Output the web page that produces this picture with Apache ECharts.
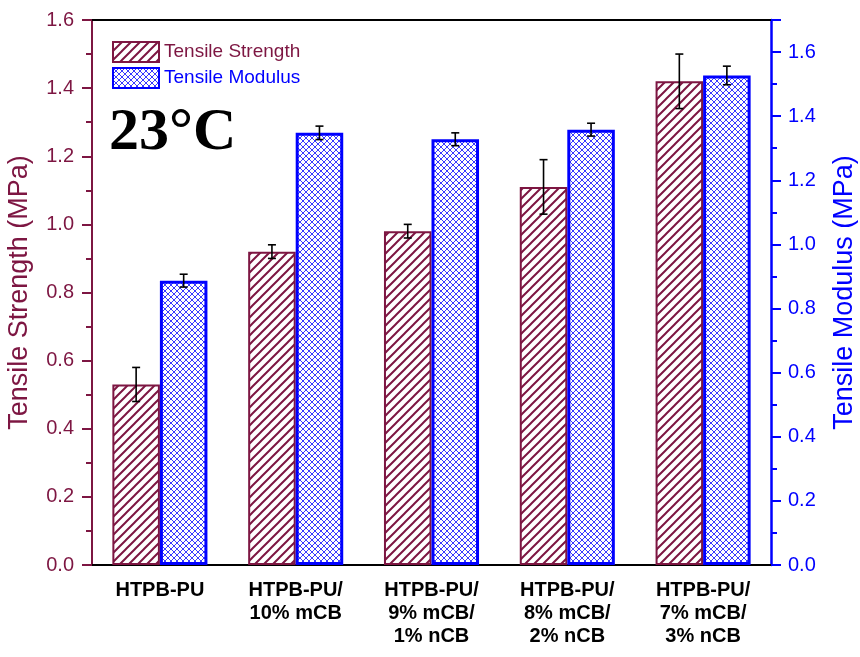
<!DOCTYPE html>
<html>
<head>
<meta charset="utf-8">
<script src="https://cdn.jsdelivr.net/npm/echarts@6/dist/echarts.min.js"></script>
<style>html,body{margin:0;padding:0;background:#fff;}#c{width:860px;height:657px;}</style>
</head>
<body>
<div id="c"></div>
<script>
const categories = ['HTPB-PU', 'HTPB-PU/\n10% mCB', 'HTPB-PU/\n9% mCB/\n1% nCB', 'HTPB-PU/\n8% mCB/\n2% nCB', 'HTPB-PU/\n7% mCB/\n3% nCB'];
const strength = [0.53, 0.92, 0.98, 1.11, 1.42];
const strengthErr = [0.05, 0.02, 0.02, 0.08, 0.08];
const modulus = [0.887, 1.348, 1.328, 1.358, 1.527];
const modulusErr = [0.02, 0.021, 0.02, 0.02, 0.029];
const leftTicks = { min: 0, max: 1.6, interval: 0.2 };
const rightTicks = { min: 0, max: 1.7, interval: 0.2 };

const MAROON = '#7d1642';
const BLUE = '#0000ff';

function hatch(color, size, lw) {
  const c = document.createElement('canvas');
  c.width = size; c.height = size;
  const g = c.getContext('2d');
  g.fillStyle = '#fff'; g.fillRect(0, 0, size, size);
  g.strokeStyle = color; g.lineWidth = lw;
  g.beginPath();
  g.moveTo(-1, size + 1); g.lineTo(size + 1, -1);
  g.moveTo(-1, 1); g.lineTo(1, -1);
  g.moveTo(size - 1, size + 1); g.lineTo(size + 1, size - 1);
  g.stroke();
  return c;
}
function cross(color, size, lw) {
  const c = document.createElement('canvas');
  c.width = size; c.height = size;
  const g = c.getContext('2d');
  g.fillStyle = '#fff'; g.fillRect(0, 0, size, size);
  g.strokeStyle = color; g.lineWidth = lw;
  g.beginPath();
  g.moveTo(0, 0); g.lineTo(size, size);
  g.moveTo(size, 0); g.lineTo(0, size);
  g.stroke();
  return c;
}
const strengthFill = { image: hatch(MAROON, 9, 2), repeat: 'repeat' };
const modulusFill = { image: cross('#3a3aff', 6, 1), repeat: 'repeat' };

function errData(vals, errs) {
  return vals.map((v, i) => [i, v - errs[i], v + errs[i]]);
}
function errRender(side) {
  return function (params, api) {
    const i = api.value(0);
    const lo = api.coord([i, api.value(1)]);
    const hi = api.coord([i, api.value(2)]);
    const band = api.size([1, 0])[0];
    const x = lo[0] + side * band * 0.175;
    const cap = 4;
    const st = { stroke: '#000', lineWidth: 1.6 };
    return {
      type: 'group',
      children: [
        { type: 'line', shape: { x1: x, y1: lo[1], x2: x, y2: hi[1] }, style: st },
        { type: 'line', shape: { x1: x - cap, y1: lo[1], x2: x + cap, y2: lo[1] }, style: st },
        { type: 'line', shape: { x1: x - cap, y1: hi[1], x2: x + cap, y2: hi[1] }, style: st }
      ]
    };
  };
}

const chart = echarts.init(document.getElementById('c'), null, { renderer: 'canvas' });
chart.setOption({
  animation: false,
  backgroundColor: '#fff',
  grid: { left: 92, right: 89, top: 20, bottom: 92, containLabel: false, outerBoundsMode: 'none' },
  legend: {
    orient: 'vertical', left: 107, top: 36, itemWidth: 46, itemHeight: 20, itemGap: 4,
    icon: 'rect',
    textStyle: { fontFamily: 'Liberation Sans', fontSize: 19 },
    data: [
      { name: 'Tensile Strength', textStyle: { color: MAROON } },
      { name: 'Tensile Modulus', textStyle: { color: BLUE } }
    ]
  },
  graphic: [{
    type: 'text', left: 109, top: 103,
    style: { text: '23°C', font: 'bold 60px "Liberation Serif"', fill: '#000' }
  }],
  xAxis: [{
    type: 'category', data: categories, position: 'bottom',
    axisLine: { onZero: false, lineStyle: { color: '#000', width: 2 } },
    axisTick: { alignWithLabel: true, length: 9, lineStyle: { color: '#000', width: 2 } },
    axisLabel: { color: '#000', fontFamily: 'Liberation Sans', fontWeight: 'bold', fontSize: 20, lineHeight: 23, margin: 14, interval: 0 }
  }, {
    type: 'category', data: categories, position: 'top',
    axisLine: { onZero: false, lineStyle: { color: '#000', width: 2 } },
    axisTick: { alignWithLabel: true, inside: true, length: 10, lineStyle: { color: '#000', width: 2 } },
    axisLabel: { show: false }
  }],
  yAxis: [{
    type: 'value', position: 'left', min: leftTicks.min, max: leftTicks.max, interval: leftTicks.interval,
    name: 'Tensile Strength (MPa)', nameLocation: 'middle', nameRotate: 90, nameGap: 59,
    nameTextStyle: { color: MAROON, fontFamily: 'Liberation Sans', fontSize: 27 },
    axisLine: { show: true, lineStyle: { color: MAROON, width: 2 } },
    axisTick: { show: true, length: 10, lineStyle: { color: MAROON, width: 2 } },
    minorTick: { show: true, splitNumber: 2, length: 6, lineStyle: { color: MAROON, width: 2 } },
    axisLabel: { color: MAROON, fontFamily: 'Liberation Sans', fontSize: 20, margin: 18, formatter: v => v.toFixed(1) },
    splitLine: { show: false }
  }, {
    type: 'value', position: 'right', min: rightTicks.min, max: rightTicks.max, interval: rightTicks.interval,
    name: 'Tensile Modulus (MPa)', nameLocation: 'middle', nameRotate: 90, nameGap: 60,
    nameTextStyle: { color: BLUE, fontFamily: 'Liberation Sans', fontSize: 27 },
    axisLine: { show: true, lineStyle: { color: BLUE, width: 2.5 } },
    axisTick: { show: true, length: 10, lineStyle: { color: BLUE, width: 2 } },
    minorTick: { show: true, splitNumber: 2, length: 6, lineStyle: { color: BLUE, width: 2 } },
    axisLabel: { color: BLUE, fontFamily: 'Liberation Sans', fontSize: 20, margin: 17, formatter: v => v > 1.65 ? '' : v.toFixed(1) },
    splitLine: { show: false }
  }],
  series: [{
    name: 'Tensile Strength', type: 'bar', xAxisIndex: 0, yAxisIndex: 0, data: strength,
    barWidth: '35%', barGap: '0%',
    itemStyle: { color: strengthFill, borderColor: MAROON, borderWidth: 2 }
  }, {
    name: 'Tensile Modulus', type: 'bar', xAxisIndex: 0, yAxisIndex: 1, data: modulus,
    barWidth: '35%', barGap: '0%',
    itemStyle: { color: modulusFill, borderColor: BLUE, borderWidth: 3 }
  }, {
    type: 'custom', xAxisIndex: 0, yAxisIndex: 0, data: errData(strength, strengthErr),
    renderItem: errRender(-1), z: 5, silent: true
  }, {
    type: 'custom', xAxisIndex: 0, yAxisIndex: 1, data: errData(modulus, modulusErr),
    renderItem: errRender(1), z: 5, silent: true
  }]
});
</script>
</body>
</html>
